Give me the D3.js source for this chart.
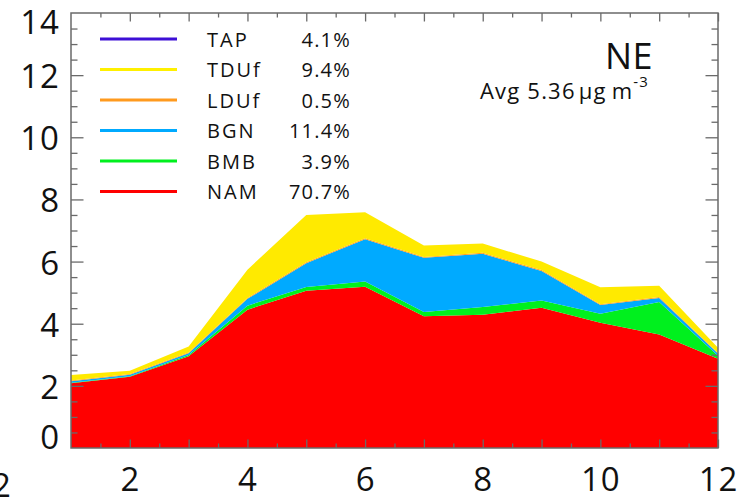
<!DOCTYPE html>
<html>
<head>
<meta charset="utf-8">
<script src="https://cdn.jsdelivr.net/npm/d3@7"></script>
<style>
  html, body { margin: 0; padding: 0; background: #fff; }
  svg { display: block; font-family: "Open Sans", "Noto Sans", sans-serif; }
</style>
</head>
<body>
<svg id="chart" width="753" height="502"></svg>
<script>
// Monthly mean concentration by source region, NE (stacked, bottom to top)
const months = [1, 2, 3, 4, 5, 6, 7, 8, 9, 10, 11, 12];
const NAM  = [2.08, 2.29, 2.95, 4.45, 5.06, 5.19, 4.24, 4.29, 4.51, 4.03, 3.65, 2.87];
const BMB  = [0.02, 0.02, 0.04, 0.13, 0.12, 0.17, 0.14, 0.25, 0.24, 0.29, 1.05, 0.10];
const BGN  = [0.05, 0.05, 0.06, 0.22, 0.77, 1.36, 1.74, 1.71, 0.95, 0.28, 0.13, 0.07];
const LDUf = [0.02, 0.02, 0.02, 0.03, 0.03, 0.03, 0.03, 0.03, 0.03, 0.03, 0.03, 0.02];
const TDUf = [0.18, 0.11, 0.20, 0.91, 1.52, 0.84, 0.37, 0.30, 0.27, 0.54, 0.36, 0.17];

// Legend entries (top to bottom) with their annual shares
const legendNames  = ["TAP", "TDUf", "LDUf", "BGN", "BMB", "NAM"];
const legendShares = ["4.1%", "9.4%", "0.5%", "11.4%", "3.9%", "70.7%"];
const legendColors = ["#3d0fd6", "#fff000", "#ff9a1e", "#00aaff", "#00f01e", "#ff0000"];

const yTickLabels = [0, 2, 4, 6, 8, 10, 12, 14];
const xTickLabels = [2, 4, 6, 8, 10, 12];
const regionName = "NE";
const avgValue = "5.36";

const svg = d3.select("#chart");
const L = 71, R = 718, T = 13, B = 448;

const x = d3.scaleLinear().domain([1, 12]).range([L, R]);
const y = d3.scaleLinear().domain([0, 14]).range([B, T]);

// Stacked layers
const seriesKeys = ["NAM", "BMB", "BGN", "LDUf", "TDUf"];
const seriesVals = { NAM, BMB, BGN, LDUf, TDUf };
const seriesColor = { NAM: "#ff0000", BMB: "#00f01e", BGN: "#00aaff", LDUf: "#ff9a1e", TDUf: "#ffea00" };
const table = months.map((m, i) => {
  const row = { month: m };
  seriesKeys.forEach(k => row[k] = seriesVals[k][i]);
  return row;
});
const stacked = d3.stack().keys(seriesKeys)(table);
const area = d3.area()
  .x(d => x(d.data.month))
  .y0(d => y(d[0]))
  .y1(d => y(d[1]));

svg.append("g").selectAll("path")
  .data(stacked)
  .join("path")
  .attr("d", area)
  .attr("fill", d => seriesColor[d.key])
  .attr("stroke", "none");

// Frame and inward ticks on all four sides
const axisColor = "#6a6a6a";
const halfSteps = d3.range(1.5, 12.0001, 0.5);
const xMajor = halfSteps.filter(v => Number.isInteger(v));
const xMinor = halfSteps.filter(v => !Number.isInteger(v));
const yAll = d3.range(0.5, 14, 0.5);
const yMajor = yAll.filter(v => v % 2 === 0);
const yMinor = yAll.filter(v => v % 2 !== 0);

function tickAxis(gen, vals, size, tx, ty) {
  const g = svg.append("g").attr("transform", `translate(${tx},${ty})`)
    .call(gen.tickValues(vals).tickSize(size).tickSizeOuter(0).tickFormat(""));
  g.select(".domain").remove();
  g.selectAll("line").attr("stroke", axisColor).attr("stroke-width", 1.3);
  return g;
}
tickAxis(d3.axisBottom(x), xMajor, -8.5, 0, B);
tickAxis(d3.axisBottom(x), xMinor, -4.5, 0, B);
tickAxis(d3.axisTop(x), xMajor, -8.5, 0, T);
tickAxis(d3.axisTop(x), xMinor, -4.5, 0, T);
tickAxis(d3.axisLeft(y), yMajor, -12.5, L, 0);
tickAxis(d3.axisLeft(y), yMinor, -6.5, L, 0);
tickAxis(d3.axisRight(y), yMajor, -12.5, R, 0);
tickAxis(d3.axisRight(y), yMinor, -6.5, R, 0);

svg.append("rect")
  .attr("x", L).attr("y", T)
  .attr("width", R - L).attr("height", B - T)
  .attr("fill", "none")
  .attr("stroke", axisColor)
  .attr("stroke-width", 1.5);

// Tick labels
const yLab = svg.append("g").attr("transform", `translate(${L},0)`)
  .call(d3.axisLeft(y).tickValues(yTickLabels).tickSize(0).tickPadding(11));
yLab.select(".domain").remove();
yLab.selectAll("text")
  .attr("font-family", "Open Sans, Noto Sans, sans-serif")
  .attr("font-size", 33)
  .attr("letter-spacing", 1)
  .attr("fill", "#111")
  .attr("dy", d => d === 14 ? "0.62em" : d === 0 ? "0.02em" : "0.38em");

const xLab = svg.append("g").attr("transform", `translate(0,${B})`)
  .call(d3.axisBottom(x).tickValues(xTickLabels).tickSize(0).tickPadding(20));
xLab.select(".domain").remove();
xLab.selectAll("text")
  .attr("font-family", "Open Sans, Noto Sans, sans-serif")
  .attr("font-size", 33)
  .attr("letter-spacing", 1)
  .attr("fill", "#111");

// Edge of the neighbouring panel's axis label
svg.append("text")
  .attr("x", -8).attr("y", 497)
  .attr("text-anchor", "middle")
  .attr("font-size", 33)
  .attr("letter-spacing", 1)
  .attr("fill", "#111")
  .text("12");

// Legend
const leg = svg.append("g");
legendNames.forEach((name, i) => {
  const ly = 39 + i * 30.5;
  leg.append("line")
    .attr("x1", 100).attr("x2", 177)
    .attr("y1", ly).attr("y2", ly)
    .attr("stroke", legendColors[i])
    .attr("stroke-width", 3);
  leg.append("text")
    .attr("x", 207).attr("y", ly + 7.5)
    .attr("font-size", 20)
    .attr("letter-spacing", 2)
    .attr("fill", "#111")
    .text(name);
  leg.append("text")
    .attr("x", 351).attr("y", ly + 7.5)
    .attr("text-anchor", "end")
    .attr("font-size", 20)
    .attr("letter-spacing", 1.2)
    .attr("fill", "#111")
    .text(legendShares[i]);
});

// Region name and annual average
svg.append("text")
  .attr("x", 653).attr("y", 69)
  .attr("text-anchor", "end")
  .attr("font-size", 36)
  .attr("letter-spacing", 0.5)
  .attr("fill", "#111")
  .text(regionName);

const avg = svg.append("text")
  .attr("x", 480).attr("y", 99)
  .attr("font-size", 22)
  .attr("letter-spacing", 1.2)
  .attr("fill", "#111");
avg.append("tspan").text(`Avg ${avgValue}`);
avg.append("tspan").attr("dx", 3).text("\u00b5g");
avg.append("tspan").attr("dx", 5).text("m");
avg.append("tspan").attr("dy", -12).attr("font-size", 15).text("-3");
</script>
</body>
</html>
